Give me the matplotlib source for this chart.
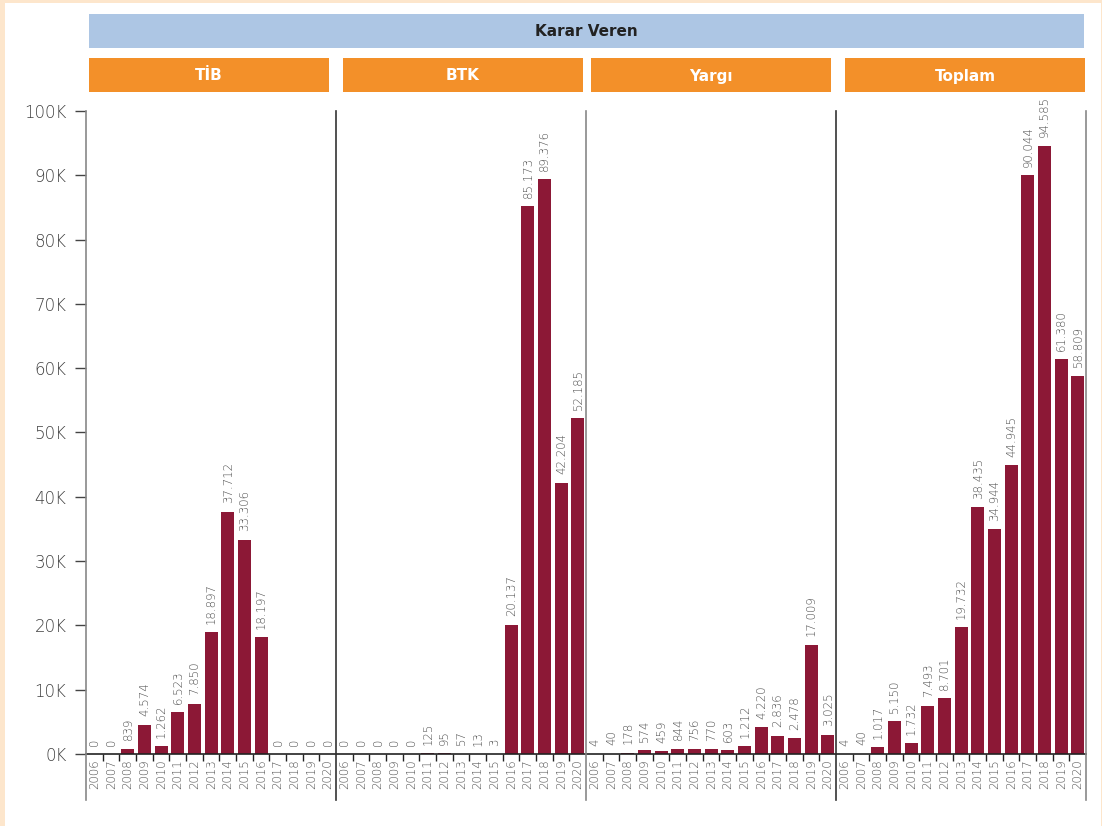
import matplotlib.pyplot as plt
from matplotlib.patches import Rectangle

years = [str(y) for y in range(2006, 2021)]
panel_names = ["TİB", "BTK", "Yargı", "Toplam"]
tib = [0, 0, 839, 4574, 1262, 6523, 7850, 18897, 37712, 33306, 18197, 0, 0, 0, 0]
btk = [0, 0, 0, 0, 0, 125, 95, 57, 13, 3, 20137, 85173, 89376, 42204, 52185]
yargi = [4, 40, 178, 574, 459, 844, 756, 770, 603, 1212, 4220, 2836, 2478, 17009, 3025]
toplam = [4, 40, 1017, 5150, 1732, 7493, 8701, 19732, 38435, 34944, 44945, 90044, 94585, 61380, 58809]
series = [tib, btk, yargi, toplam]
yticks = list(range(0, 100001, 10000))

BAR = "#8C1836"
ORANGE = "#F39029"
BLUE = "#ADC6E4"
PEACH = "#FDE6CC"
LABEL = "#505050"
THIN = dict(family="DejaVu Sans", weight="light")

W, H = 1102, 826
fig = plt.figure(figsize=(W / 100, H / 100), dpi=100, facecolor=PEACH)
# white canvas inside the peach frame (kept behind the axes)
fig.patches.append(Rectangle((5 / W, 0), (1101 - 5) / W, (H - 3) / H,
                             transform=fig.transFigure, facecolor="white",
                             edgecolor="none", zorder=-5))


def fx(px):
    return px / W


def fy(py):
    return 1 - py / H


def fmt(v):
    return f"{v:,}".replace(",", ".")


# header boxes
fig.patches.append(Rectangle((fx(89), fy(48)), fx(1084 - 89), (48 - 14) / H,
                             transform=fig.transFigure, facecolor=BLUE,
                             edgecolor="none", zorder=-4))
fig.text(fx((89 + 1084) / 2), fy(31), "Karar Veren", ha="center", va="center",
         fontsize=11, fontweight="bold", color="#222222")
hdr_x = [(89, 329), (343, 583), (591, 831), (845, 1085)]
for (x0, x1), name in zip(hdr_x, panel_names):
    fig.patches.append(Rectangle((fx(x0), fy(92)), fx(x1 - x0), (92 - 58) / H,
                                 transform=fig.transFigure, facecolor=ORANGE,
                                 edgecolor="none", zorder=-4))
    fig.text(fx((x0 + x1) / 2), fy(76), name, ha="center", va="center",
             fontsize=11, fontweight="bold", color="white")

ax_top, ax_bot = 111, 754
ext = (800 - ax_bot) / (ax_bot - ax_top)
line_colors = ["#888888", "#333333", "#888888", "#333333"]

for i, vals in enumerate(series):
    left = 86 + 250 * i
    ax = fig.add_axes([fx(left), fy(ax_bot), fx(250), (ax_bot - ax_top) / H])
    ax.set_facecolor("none")
    x = list(range(len(years)))
    ax.bar(x, vals, width=0.78, color=BAR, zorder=2)
    ax.set_xlim(-0.5, len(years) - 0.5)
    ax.set_ylim(0, 100000)
    for xi, v in zip(x, vals):
        ax.text(xi, v + 1300, fmt(v), rotation=90, ha="center", va="bottom",
                fontsize=8.5, color=LABEL, **THIN)

    for s in ["top", "right", "left"]:
        ax.spines[s].set_visible(False)
    ax.spines["bottom"].set_color("#222222")
    ax.spines["bottom"].set_linewidth(1.2)

    # vertical separator extending below the axis
    ax.plot([-0.5, -0.5], [-ext, 1.0], transform=ax.get_xaxis_transform(),
            color=line_colors[i], lw=1.2, clip_on=False, zorder=3)

    ax.set_xticks(x)
    ax.set_xticklabels(years, rotation=90, fontsize=8.5, color=LABEL, **THIN)
    ax.tick_params(axis="x", which="major", length=0, pad=4)
    ax.set_xticks([k + 0.5 for k in x[:-1]], minor=True)
    ax.tick_params(axis="x", which="minor", length=5, width=1, color="#222222",
                   direction="out")

    if i == 0:
        ax.set_yticks(yticks)
        ax.set_yticklabels([f"{t // 1000}K" for t in yticks], fontsize=12,
                           color="#404040", **THIN)
        ax.tick_params(axis="y", length=8, width=1, color="#444444", pad=6)
    else:
        ax.set_yticks([])

# closing line on the right edge
ax_r = fig.add_axes([fx(86), fy(ax_bot), fx(1000), (ax_bot - ax_top) / H])
ax_r.axis("off")
ax_r.plot([1, 1], [-ext, 1.0], transform=ax_r.transAxes, color="#888888",
          lw=1.2, clip_on=False)

plt.savefig("out.png", dpi=100, facecolor=PEACH)
